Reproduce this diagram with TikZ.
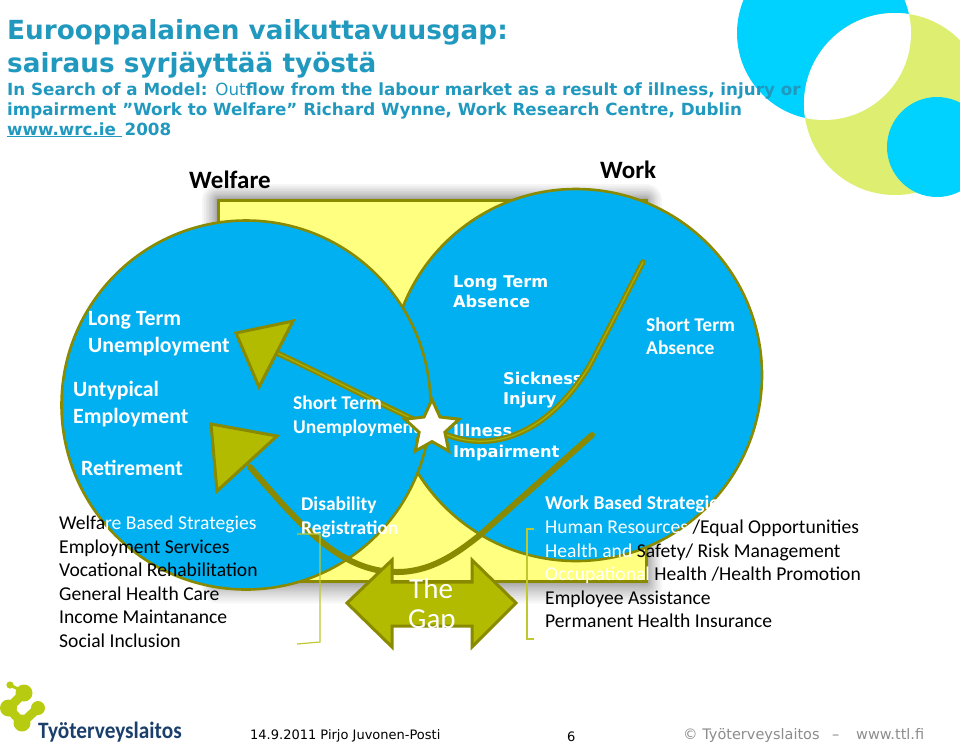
\documentclass[tikz,border=0pt]{standalone}
\usepackage{fontspec}
\setmainfont{Carlito}
\newfontfamily\vrd{DejaVu Sans}
\usepackage{xcolor}
\usetikzlibrary{arrows.meta,positioning,calc,shapes.geometric}
\definecolor{skyblue}{HTML}{00B0F0}
\definecolor{paleyellow}{HTML}{FFFF80}
\definecolor{olivedark}{HTML}{8A8A00}
\definecolor{olivefill}{HTML}{B2BB00}
\definecolor{oliveline}{HTML}{BFC830}
\definecolor{titleblue}{HTML}{2199BF}
\definecolor{logocyan}{HTML}{00D2FF}
\definecolor{logolime}{HTML}{DDEE70}
\definecolor{logogreen}{HTML}{B7CB10}
\definecolor{logonavy}{HTML}{1B3F6B}
\tikzset{
  lbl/.style    ={anchor=base west,inner sep=0pt,align=left},
  title/.style  ={lbl,text=titleblue,font=\vrd\bfseries\fontsize{26.3}{33}\selectfont},
  subtitle/.style={lbl,text=titleblue,font=\vrd\bfseries\fontsize{16.75}{20}\selectfont},
  heading/.style={lbl,font=\bfseries\fontsize{25}{30}\selectfont},
  wlbl/.style   ={lbl,text=white,font=\bfseries\fontsize{21.8}{27}\selectfont},
  clbl/.style   ={lbl,text=white,font=\vrd\bfseries\fontsize{16.2}{20.5}\selectfont},
  slbl/.style   ={lbl,text=white,font=\bfseries\fontsize{19.5}{24}\selectfont},
  list/.style   ={lbl,text=black,font=\fontsize{19.6}{23.6}\selectfont},
  foot/.style   ={lbl,font=\vrd\fontsize{13}{16}\selectfont},
  gray/.style   ={foot,text=gray!90,font=\vrd\fontsize{14.5}{16}\selectfont},
  disc/.style   ={circle,draw=olivedark,fill=skyblue,line width=2.6pt,inner sep=0pt},
  head/.style   ={draw=olivedark,fill=olivefill,line width=3pt,line join=miter},
  bracket/.style={draw=oliveline,line width=1.2pt},
  flow/.style   ={draw=olivedark,line width=5.5pt,line cap=round},
  core/.style   ={draw=olivefill!80!olivedark,line width=1.2pt,line cap=round},
}

\begin{document}
\begin{tikzpicture}[x=1pt,y=-1pt]
  \useasboundingbox (0,0) rectangle (960,748);
  % corner ornament
  \begin{scope}
    \clip (0,0) rectangle (960,748);
    \fill[logocyan] (824,33) circle (87);
    \fill[logolime] (895,104) circle (91);
    \begin{scope}
      \clip (824,33) circle (87);
      \fill[white] (895,104) circle (91);
    \end{scope}
    \fill[logocyan] (937,147) circle (50);
  \end{scope}
  % title block
  \node[title] (T1) at (7,39) {Eurooppalainen vaikuttavuusgap:};
  \node[title] (T2) at (7,72) {sairaus syrjäyttää työstä};
  \node[subtitle] (T3) at (7,95) {In Search of a Model: {\mdseries Out}flow from the labour market as a result of illness, injury or};
  \node[subtitle] (T4) at (7,115) {impairment ”Work to Welfare” Richard Wynne, Work Research Centre, Dublin};
  \node[subtitle] (T5) at (7,135) {\underline{www.wrc.ie\ }\,2008};
  \node[heading] (W) at (189,188) {Welfare};
  \node[heading] (K) at (600,178) {Work};
  % soft shadow under the panel
  \foreach \i in {1,...,16}{
    \pgfmathsetmacro{\ext}{\i*\i/16}
    \fill[black,opacity=0.035,rounded corners=\ext pt] (218-\ext,200-\ext) rectangle (646+\ext,581+1.4*\ext);
  }
  % panel
  \draw[draw=olivedark,fill=paleyellow,line width=3pt] (218,200) rectangle (646,581);
  % the two circles
  \node[disc,minimum size=372pt] (CW) at (576,375) {};
  \node[disc,minimum size=369pt] (CL) at (246,405) {};
  % labels that the flow line cuts
  \node[clbl] (LA) at (453,287) {Long Term};
  \node[clbl] (LB) at (453,307) {Absence};
  \node[clbl] (SI) at (503,384) {Sickness};
  \node[clbl] (IN) at (503,404) {Injury};
  \node[clbl] (IL) at (453,436) {Illness};
  % flow lines
  \coordinate (S0) at (432,428);
  \coordinate (UE) at (643,262);
  \coordinate (UA) at (275,352);
  \coordinate (LE) at (250,467);
  \coordinate (LF) at (592,435);
  \draw[skyblue,line width=7pt,shift={(2,2)}] (S0) .. controls (490,460) and (550,432) .. (590,365) -- (UE);
  \draw[flow] (S0) .. controls (490,460) and (550,432) .. (590,365) -- (UE);
  \draw[core] (S0) .. controls (490,460) and (550,432) .. (590,365) -- (UE);
  \draw[flow] (S0) .. controls (380,404) and (330,378) .. (UA);
  \draw[core] (S0) .. controls (380,404) and (330,378) .. (UA);
  \draw[draw=olivedark,line width=6pt,line cap=round] (LE) .. controls (300,525) and (340,572) .. (397,572)
        .. controls (430,572) and (455,555) .. (480,535) -- (LF);
  % arrow heads
  \draw[head] (293,321) -- (236,333) -- (259,387) -- cycle;
  \draw[head] (211,424) -- (277,436) -- (217,491) -- cycle;
  % labels on the circles
  \node[wlbl] (L1) at (88,325) {Long Term};
  \node[wlbl] (L2) at (88,352) {Unemployment};
  \node[wlbl] (U1) at (73,396) {Untypical};
  \node[wlbl] (U2) at (73,423) {Employment};
  \node[wlbl] (R) at (81,475) {Retirement};
  \node[slbl] (S1) at (293,409) {Short Term};
  \node[slbl] (S2) at (293,433) {Unemployment};
  \node[slbl] (D1) at (301,510) {Disability};
  \node[slbl] (D2) at (301,534) {Registration};
  \node[clbl] (IM) at (453,457) {Impairment};
  \node[slbl] (A1) at (646,331) {Short Term};
  \node[slbl] (A2) at (646,354) {Absence};
  % star on the crossing
  \node[star,star points=5,star point ratio=2.1,draw=olivedark,fill=white,line width=3pt,minimum size=57pt,inner sep=0pt] (X) at (S0) {};
  % strategy lists
  \node[list] (W1) at (59,529) {Welfa\textcolor{white}{re Based Strategies}};
  \node[list] (W2) at (59,553) {Employment Services};
  \node[list] (W3) at (59,576) {Vocational Rehabilitation};
  \node[list] (W4) at (59,600) {General Health Care};
  \node[list] (W5) at (59,623) {Income Maintanance};
  \node[list] (W6) at (59,647) {Social Inclusion};
  \node[list,text=white] (H1) at (545,509) {\bfseries Work Based Strategies};
  \node[list] (H2) at (545,533) {\textcolor{white}{Human Resources} /Equal Opportunities};
  \node[list] (H3) at (545,557) {\textcolor{white}{Health and }Safety/ Risk Management};
  \node[list] (H4) at (545,580) {\textcolor{white}{Occupational} Health /Health Promotion};
  \node[list] (H5) at (545,604) {Employee Assistance};
  \node[list] (H6) at (545,627) {Permanent Health Insurance};
  % brackets
  \draw[bracket] (297,534) -- (320,534) -- (320,642) -- (297,644);
  \draw[bracket] (534,529) -- (527,529) -- (527,639) -- (534,639);
  % the gap
  \draw[head] (347,603) -- (392,560) -- (392,582) -- (472,582) -- (472,560) -- (516,603)
        -- (472,647) -- (472,626) -- (392,626) -- (392,647) -- cycle;
  \node[lbl,text=white,font=\fontsize{29}{30}\selectfont] (G1) at (409,598) {The};
  \node[lbl,text=white,font=\fontsize{29}{30}\selectfont] (G2) at (408,628) {Gap};
  % logo
  \fill[logogreen] (10,685) circle (3.6) (24,693) circle (8.5) (8.5,708) circle (8.5) (22,723) circle (8.5) (38,708) circle (7);
  \draw[logogreen,line width=3pt] (10,685) -- (22,691);
  \draw[logogreen,line width=9pt,line join=round] (24,693) -- (8.5,708) -- (22,723) -- (38,708);
  \node[lbl,text=logonavy,font=\bfseries\fontsize{23.5}{30}\selectfont] (TL) at (38,738) {\scalebox{0.905}[1]{Työterveyslaitos}};
  % footer
  \node[foot] (F1) at (250,739) {14.9.2011 Pirjo Juvonen-Posti};
  \node[foot] (F2) at (567,741) {6};
  \node[gray] (F3) at (683,739) {© Työterveyslaitos};
  \node[gray] (F4) at (832,739) {–};
  \node[gray] (F5) at (856,739) {www.ttl.fi};
\end{tikzpicture}
\end{document}
